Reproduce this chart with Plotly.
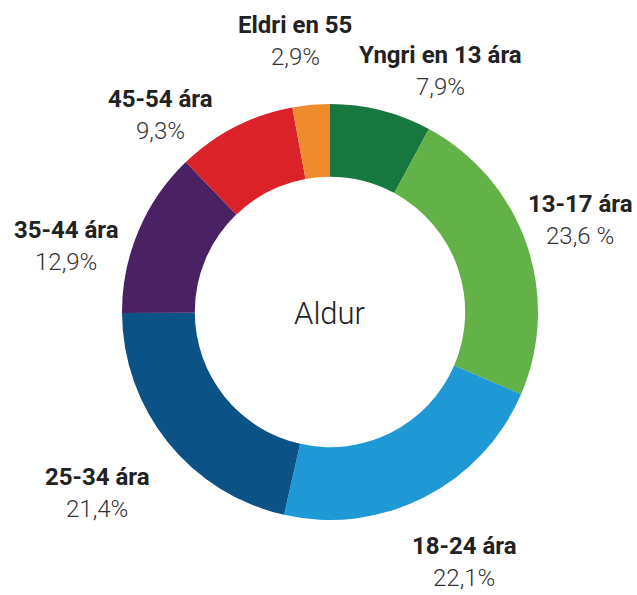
import plotly.graph_objects as go

categories = ["Yngri en 13 ára", "13-17 ára", "18-24 ára", "25-34 ára", "35-44 ára", "45-54 ára", "Eldri en 55"]
values = [7.9, 23.6, 22.1, 21.4, 12.9, 9.3, 2.9]
pct_labels = ["7,9%", "23,6 %", "22,1%", "21,4%", "12,9%", "9,3%", "2,9%"]
colors = ["#16773f", "#62b247", "#1f99d5", "#0b5286", "#4a2263", "#dc2229", "#ee8b2d"]
center_title = "Aldur"

W, H = 637, 595
# label centre positions in pixels (layout only): bold name line, percent line below
label_px = [(440, 55), (580, 204), (464, 546), (97, 477), (66, 230), (160, 99), (295, 25)]
pct_dy = 32

fig = go.Figure(go.Pie(
    labels=categories, values=values, hole=0.65, sort=False, direction="clockwise",
    rotation=0, marker=dict(colors=colors, line=dict(width=0)), textinfo="none",
    hoverinfo="label+percent",
    domain=dict(x=[122 / W, 538 / W], y=[1 - 520 / H, 1 - 104 / H]),
))

font_fam = "Roboto, Open Sans, sans-serif"
ann = []
for cat, pct, (px, py) in zip(categories, pct_labels, label_px):
    ann.append(dict(x=px / W, y=1 - py / H, xref="paper", yref="paper", text=cat,
                    showarrow=False, xanchor="center", yanchor="middle",
                    font=dict(family=font_fam, size=24, color="#222222", weight="bold")))
    ann.append(dict(x=px / W, y=1 - (py + pct_dy) / H, xref="paper", yref="paper", text=pct,
                    showarrow=False, xanchor="center", yanchor="middle",
                    font=dict(family=font_fam, size=24, color="#333333", weight=300)))
ann.append(dict(x=330 / W, y=1 - 313 / H, xref="paper", yref="paper", text=center_title,
                showarrow=False, xanchor="center", yanchor="middle",
                font=dict(family=font_fam, size=31, color="#222222", weight=300)))

fig.update_layout(width=W, height=H, margin=dict(l=0, r=0, t=0, b=0),
                  showlegend=False, paper_bgcolor="white", plot_bgcolor="white",
                  annotations=ann)
fig.write_html("out.html", config={"displayModeBar": False},
               post_script="document.body.style.margin='0';document.body.style.overflow='hidden';")
